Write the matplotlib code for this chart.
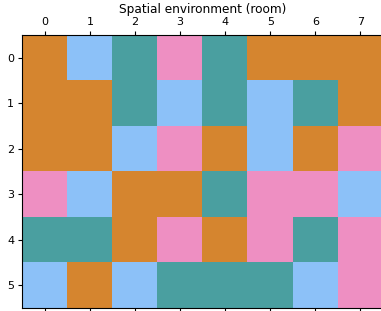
import matplotlib
matplotlib.use("Agg")
import matplotlib.pyplot as plt
from matplotlib.colors import ListedColormap
import numpy as np

# cell categories: 0 orange, 1 blue, 2 teal, 3 pink
room = [
    [0, 1, 2, 3, 2, 0, 0, 0],
    [0, 0, 2, 1, 2, 1, 2, 0],
    [0, 0, 1, 3, 0, 1, 0, 3],
    [3, 1, 0, 0, 2, 3, 3, 1],
    [2, 2, 0, 3, 0, 3, 2, 3],
    [1, 0, 1, 2, 2, 2, 1, 3],
]
palette = ["#D5852F", "#8CC1F8", "#4A9FA0", "#EE8FC2"]
title = "Spatial environment (room)"

fig = plt.figure(figsize=(3.81, 3.11), dpi=100)
ax = fig.add_axes([0.059, 0.0106, 0.946, 0.876])
ax.matshow(np.array(room), cmap=ListedColormap(palette), vmin=-0.5, vmax=3.5,
           aspect="auto")
ax.set_xticks(range(8))
ax.set_yticks(range(6))
ax.tick_params(labelsize=8, length=3, pad=3)
ax.set_title(title, fontsize=8.7, pad=3)

fig.savefig("out.png", dpi=100)
